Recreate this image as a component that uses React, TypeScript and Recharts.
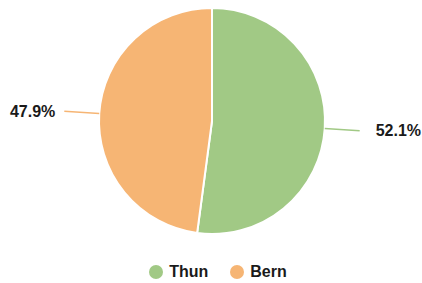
import { PieChart, Pie, Cell, Legend } from "recharts";

const cities = ["Thun", "Bern"];
const shares = [52.1, 47.9];
const colors = ["#a1c985", "#f6b574"];

const data = cities.map((name, i) => ({ name, value: shares[i] }));

const RAD = Math.PI / 180;

function renderLabel(props: any) {
  const { cx, cy, midAngle, outerRadius, index } = props;
  const cos = Math.cos(-midAngle * RAD);
  const sin = Math.sin(-midAngle * RAD);
  const r = outerRadius + 35;
  const x = cx + r * cos + (cos >= 0 ? 16 : -9);
  const y = cy + r * sin;
  return (
    <text
      x={x}
      y={y}
      textAnchor={cos >= 0 ? "start" : "end"}
      dominantBaseline="central"
      fill="#1a1a1a"
      fontSize={16}
      fontWeight="bold"
      fontFamily="Liberation Sans, Arial, sans-serif"
    >
      {shares[index].toFixed(1)}%
    </text>
  );
}

function renderLine(props: any) {
  const { cx, cy, midAngle, outerRadius, index } = props;
  const cos = Math.cos(-midAngle * RAD);
  const sin = Math.sin(-midAngle * RAD);
  const x1 = cx + outerRadius * cos;
  const y1 = cy + outerRadius * sin;
  const x2 = cx + (outerRadius + 35) * cos;
  const y2 = cy + (outerRadius + 35) * sin;
  return <path d={`M${x1},${y1}L${x2},${y2}`} stroke={colors[index]} strokeWidth={1.5} fill="none" />;
}

function LegendContent() {
  return (
    <div style={{ display: "flex", justifyContent: "center", gap: 22, fontFamily: "Liberation Sans, Arial, sans-serif", paddingLeft: 14 }}>
      {cities.map((c, i) => (
        <div key={c} style={{ display: "flex", alignItems: "center", gap: 6 }}>
          <span style={{ width: 14, height: 14, borderRadius: 7, background: colors[i], display: "inline-block" }} />
          <span style={{ fontSize: 16, fontWeight: "bold", color: "#1a1a1a" }}>{c}</span>
        </div>
      ))}
    </div>
  );
}

export default function App() {
  return (
    <div style={{ position: "absolute", left: 0, top: 0, background: "#fff" }}>
      <PieChart width={422} height={283} margin={{ top: 0, right: 0, bottom: 0, left: 0 }}>
        <Pie
          data={data}
          dataKey="value"
          cx={212}
          cy={121}
          outerRadius={113}
          startAngle={90}
          endAngle={-270}
          stroke="#fff"
          strokeWidth={2}
          label={renderLabel}
          labelLine={renderLine}
          isAnimationActive={false}
        >
          {data.map((d, i) => (
            <Cell key={d.name} fill={colors[i]} />
          ))}
        </Pie>
        <Legend content={<LegendContent />} verticalAlign="bottom" wrapperStyle={{ bottom: 2 }} />
      </PieChart>
    </div>
  );
}
